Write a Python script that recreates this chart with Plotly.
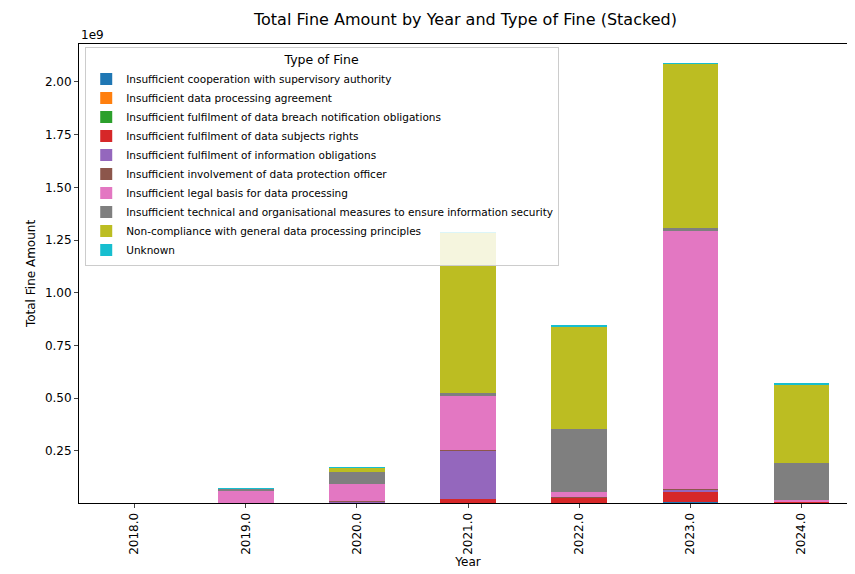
import plotly.graph_objects as go

years = ["2018.0", "2019.0", "2020.0", "2021.0", "2022.0", "2023.0", "2024.0"]

types = [
    "Insufficient cooperation with supervisory authority",
    "Insufficient data processing agreement",
    "Insufficient fulfilment of data breach notification obligations",
    "Insufficient fulfilment of data subjects rights",
    "Insufficient fulfilment of information obligations",
    "Insufficient involvement of data protection officer",
    "Insufficient legal basis for data processing",
    "Insufficient technical and organisational measures to ensure information security",
    "Non-compliance with general data processing principles",
    "Unknown",
]

colors = ["#1f77b4", "#ff7f0e", "#2ca02c", "#d62728", "#9467bd",
          "#8c564b", "#e377c2", "#7f7f7f", "#bcbd22", "#17becf"]

# fine amounts (billions of EUR)
fines = [
    [0.0001, 0.0005, 0.0008, 0.001, 0.001, 0.008, 0.001],      # cooperation
    [0.0, 0.0002, 0.0005, 0.0005, 0.0005, 0.001, 0.0005],      # processing agreement
    [0.0, 0.0002, 0.0005, 0.001, 0.001, 0.001, 0.0005],        # breach notification
    [0.0002, 0.001, 0.005, 0.021, 0.027, 0.047, 0.008],        # data subjects rights
    [0.0, 0.0005, 0.003, 0.228, 0.001, 0.01, 0.0005],          # information obligations
    [0.0, 0.0002, 0.0005, 0.001, 0.0005, 0.001, 0.0005],       # DPO
    [0.0003, 0.062, 0.084, 0.26, 0.024, 1.225, 0.004],         # legal basis
    [0.0002, 0.008, 0.057, 0.01, 0.30, 0.015, 0.178],          # technical measures
    [0.0001, 0.0005, 0.019, 0.765, 0.485, 0.78, 0.37],         # general principles
    [0.0, 0.0001, 0.0005, 0.0005, 0.008, 0.0005, 0.008],       # unknown
]

fig = go.Figure()
for name, col, vals in zip(types, colors, fines):
    fig.add_trace(go.Bar(x=years, y=[v * 1e9 for v in vals], name=name,
                         marker=dict(color=col, line=dict(width=0)), width=0.5))

ticks = [0.25, 0.5, 0.75, 1.0, 1.25, 1.5, 1.75, 2.0]

fig.update_layout(
    barmode="stack",
    width=855, height=574,
    margin=dict(l=71, r=6, t=36, b=79),
    plot_bgcolor="white", paper_bgcolor="white",
    font=dict(family="DejaVu Sans", color="black", size=12),
    title=dict(text="Total Fine Amount by Year and Type of Fine (Stacked)",
               x=0.535, xanchor="center", y=0.99, yanchor="top", font=dict(size=16)),
    xaxis=dict(title=dict(text="Year", standoff=2, font=dict(size=12)), tickangle=-90,
               showline=True, automargin=False, tickfont=dict(size=12),
               linecolor="black", mirror=True, ticks="outside", ticklen=4),
    yaxis=dict(title=dict(text="Total Fine Amount", standoff=6, font=dict(size=12)),
               range=[0.003e9, 2.18e9], automargin=False, tickfont=dict(size=12),
               tickvals=[t * 1e9 for t in ticks], ticktext=["%.2f" % t for t in ticks],
               showgrid=False, showline=True, linecolor="black", mirror=True,
               ticks="outside", ticklen=4, zeroline=False),
    legend=dict(title=dict(text="Type of Fine", side="top center", font=dict(size=12.5)),
                x=0.008, y=0.993, xanchor="left", yanchor="top",
                traceorder="normal", font=dict(size=10.5),
                bordercolor="#cccccc", borderwidth=1, bgcolor="rgba(255,255,255,0.85)",
                itemwidth=30, tracegroupgap=0),
    annotations=[dict(text="1e9", x=0, y=1.0, xref="paper", yref="paper",
                      xanchor="left", yanchor="bottom", showarrow=False, font=dict(size=12))],
)

fig.write_html("out.html")
